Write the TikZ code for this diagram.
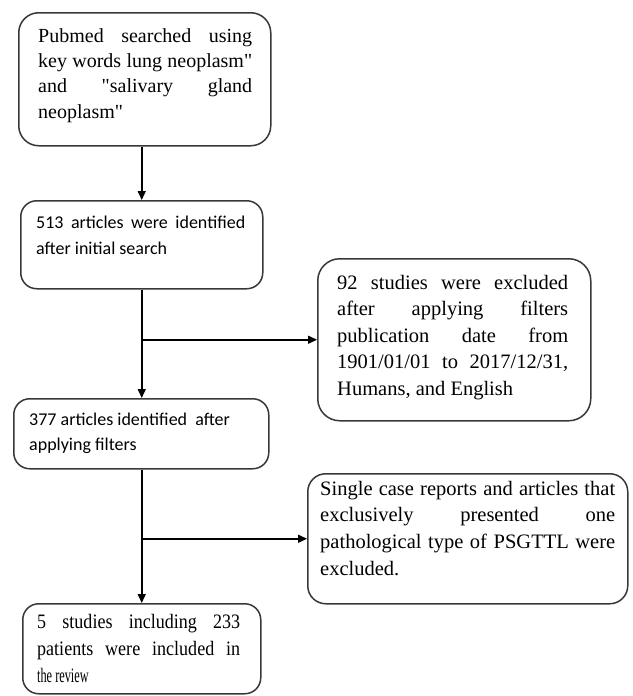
\documentclass[tikz,border=0pt]{standalone}
\usepackage{fontspec}
\usepackage{graphicx}
\setmainfont{Liberation Serif}[Ligatures=TeXOff]
\newfontfamily\calib{Carlito}
\newfontfamily\serifn[FakeStretch=0.88]{Liberation Serif}
\usetikzlibrary{arrows.meta,calc}
\newcommand\jl[2]{\makebox[#1][s]{#2}}
\newcommand\tst{\rule{0pt}{15pt}}
\begin{document}
\begin{tikzpicture}[x=1pt,y=-1pt,
  boxst/.style={draw=black!78,line width=1.5pt,rounded corners=16pt,inner sep=0pt,anchor=north west},
  txtst/.style={inner sep=0pt,anchor=north west,align=left,text=black},
  arr/.style={draw=black,line width=1.5pt,-{Triangle[length=9pt,width=8pt]}}]
\useasboundingbox[fill=white] (0,0) rectangle (632,696);
% boxes
\node[boxst,rounded corners=20pt,minimum width=252pt,minimum height=133pt] (b1) at (18,12) {};
\node[boxst,minimum width=242pt,minimum height=88pt] (b2) at (20,200) {};
\node[boxst,minimum width=255pt,minimum height=70pt] (b3) at (13,398) {};
\node[boxst,rounded corners=22pt,minimum width=273pt,minimum height=162pt] (b4) at (317,258) {};
\node[boxst,rounded corners=18pt,minimum width=320pt,minimum height=130pt] (b5) at (307,473) {};
\node[boxst,minimum width=238pt,minimum height=90pt] (b6) at (22,603) {};
% texts
\node[txtst,font=\fontsize{20}{25.3}\selectfont] (t1) at (38,27)
 {\tst\jl{214pt}{Pubmed searched using}\\\jl{214pt}{key words lung neoplasm"}\\\jl{214pt}{and "salivary gland}\\neoplasm"};
\node[txtst,font=\calib\fontsize{18}{26}\selectfont] (t2) at (36,213)
 {\tst\jl{209pt}{513 articles were identified}\\after initial search};
\node[txtst,font=\calib\fontsize{18}{25}\selectfont] (t3) at (29,410)
 {\tst 377 articles identified\ \ after\\applying filters};
\node[txtst,font=\fontsize{20.5}{26.5}\selectfont] (t4) at (337,274)
 {\tst\jl{231pt}{92 studies were excluded}\\\jl{231pt}{after applying filters}\\\jl{231pt}{publication date from}\\\jl{231pt}{1901/01/01 to 2017/12/31,}\\Humans, and English};
\node[txtst,font=\fontsize{20.5}{26.7}\selectfont] (t5) at (320,480)
 {\tst\jl{295pt}{Single case reports and articles that}\\\jl{295pt}{exclusively presented one}\\\jl{295pt}{pathological type of PSGTTL were}\\excluded.};
\node[txtst,font=\serifn\fontsize{20.5}{27}\selectfont] (t6) at (37,613)
 {\tst\jl{203pt}{5 studies including 233}\\\jl{203pt}{patients were included in}\\\scalebox{0.68}[1]{the review}};
% connectors
\draw[arr] (b1.south -| b2.north) -- (b2.north);
\draw[arr] (b2.south) -- (b3.north -| b2.south);
\draw[arr] (b4.west -| b2.south) -- (b4.west);
\draw[arr] (b3.south -| b2.south) -- (b6.north -| b2.south);
\draw[arr] (b5.west -| b2.south) -- (b5.west);
\end{tikzpicture}
\end{document}
